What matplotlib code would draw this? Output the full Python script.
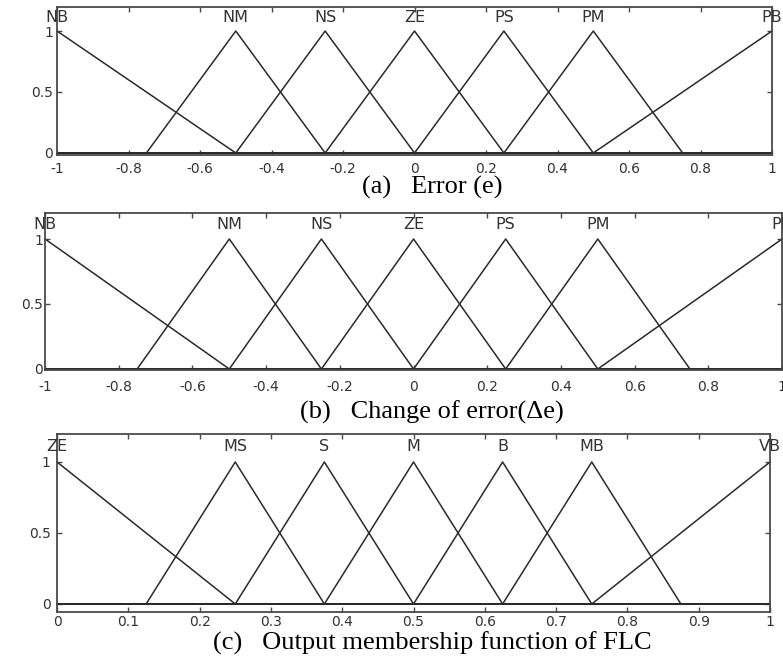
import numpy as np
import matplotlib
matplotlib.use("Agg")
import matplotlib.pyplot as plt

# Membership functions: (name, left foot, peak, right foot)
error_sets = ["NB", "NM", "NS", "ZE", "PS", "PM", "PB"]
error_params = [(-1.5, -1.0, -0.5), (-0.75, -0.5, -0.25), (-0.5, -0.25, 0.0),
                (-0.25, 0.0, 0.25), (0.0, 0.25, 0.5), (0.25, 0.5, 0.75),
                (0.5, 1.0, 1.5)]
error_ticks = [-1, -0.8, -0.6, -0.4, -0.2, 0, 0.2, 0.4, 0.6, 0.8, 1]
error_ticklabels = ["-1", "-0.8", "-0.6", "-0.4", "-0.2", "0", "0.2", "0.4", "0.6", "0.8", "1"]

derr_sets = ["NB", "NM", "NS", "ZE", "PS", "PM", "PB"]
derr_params = [(-1.5, -1.0, -0.5), (-0.75, -0.5, -0.25), (-0.5, -0.25, 0.0),
               (-0.25, 0.0, 0.25), (0.0, 0.25, 0.5), (0.25, 0.5, 0.75),
               (0.5, 1.0, 1.5)]

out_sets = ["ZE", "MS", "S", "M", "B", "MB", "VB"]
out_params = [(-0.25, 0.0, 0.25), (0.125, 0.25, 0.375), (0.25, 0.375, 0.5),
              (0.375, 0.5, 0.625), (0.5, 0.625, 0.75), (0.625, 0.75, 0.875),
              (0.75, 1.0, 1.25)]
out_ticks = [0, 0.1, 0.2, 0.3, 0.4, 0.5, 0.6, 0.7, 0.8, 0.9, 1]
out_ticklabels = ["0", "0.1", "0.2", "0.3", "0.4", "0.5", "0.6", "0.7", "0.8", "0.9", "1"]

y_ticks = [0, 0.5, 1]
y_ticklabels = ["0", "0.5", "1"]

captions = ["(a)   Error (e)", "(b)   Change of error(\u0394e)",
            "(c)   Output membership function of FLC"]

LINE = "#2a2a2a"
FRAME = "#4a4a4a"
TXT = "#333333"


def trimf(x, a, b, c):
    return np.interp(x, [a, b, c], [0.0, 1.0, 0.0], left=0.0, right=0.0)


fig = plt.figure(figsize=(7.83, 6.69), dpi=100)


def panel(rect, names, params, xlim, ylim, ticks, ticklabels, xpad, ypad):
    ax = fig.add_axes(rect)
    x = np.unique(np.concatenate([np.linspace(xlim[0], xlim[1], 401),
                                  np.array(params).ravel()]))
    x = x[(x >= xlim[0]) & (x <= xlim[1])]
    for name, (a, b, c) in zip(names, params):
        ax.plot(x, trimf(x, a, b, c), color=LINE, lw=1.1, clip_on=False)
        ax.text(b, 1.11, name, ha="center", va="center", fontsize=11.5,
                color=TXT, clip_on=False)
    ax.set_xlim(*xlim)
    ax.set_ylim(*ylim)
    ax.set_xticks(ticks)
    ax.set_xticklabels(ticklabels)
    ax.set_yticks(y_ticks)
    ax.set_yticklabels(y_ticklabels)
    ax.tick_params(axis="both", direction="in", length=3.5, width=1.0,
                   color=FRAME, labelcolor=TXT, labelsize=10,
                   top=True, right=True)
    ax.tick_params(axis="x", pad=xpad)
    ax.tick_params(axis="y", pad=ypad)
    for s in ax.spines.values():
        s.set_color(FRAME)
        s.set_linewidth(1.3)
    return ax


panel([0.0728, 0.7677, 0.9132, 0.2224], error_sets, error_params,
      (-1, 1), (-0.02, 1.2), error_ticks, error_ticklabels, 5, 3)
panel([0.0575, 0.4465, 0.9413, 0.2351], derr_sets, derr_params,
      (-1, 1), (-0.01, 1.2), error_ticks, error_ticklabels, 7, 1.5)
panel([0.0728, 0.0855, 0.9106, 0.2664], out_sets, out_params,
      (0, 1), (-0.055, 1.2), out_ticks, out_ticklabels, 2.5, 4.5)

for y, cap in zip([0.720, 0.383, 0.039], captions):
    fig.text(0.5517, y, cap, ha="center", va="center", fontsize=19,
             family="Liberation Serif", color="black")

fig.savefig("out.png", dpi=100)
